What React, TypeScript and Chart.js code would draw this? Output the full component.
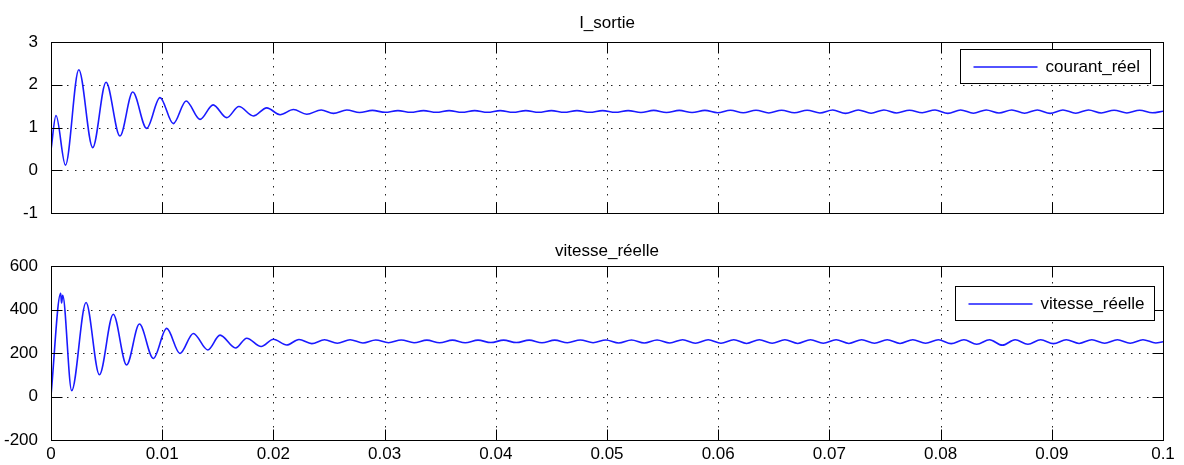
import { useEffect, useRef } from "react";
import { Chart, registerables } from "chart.js";

Chart.register(...registerables);

// ---------- data ----------
const xTickValues = [0, 0.01, 0.02, 0.03, 0.04, 0.05, 0.06, 0.07, 0.08, 0.09, 0.1];
const xTickLabels = ["0", "0.01", "0.02", "0.03", "0.04", "0.05", "0.06", "0.07", "0.08", "0.09", "0.1"];
const currentTicks = [-1, 0, 1, 2, 3];
const speedTicks = [-200, 0, 200, 400, 600];

const currentTitle = "I_sortie";
const currentLegend = "courant_réel";
const speedTitle = "vitesse_réelle";
const speedLegend = "vitesse_réelle";

const currentT = [
  0, 0.00045, 0.0013, 0.0025, 0.00375, 0.00495, 0.0062, 0.00735, 0.0086, 0.0098,
  0.011, 0.01215, 0.0134, 0.01458, 0.0158, 0.0169, 0.0182, 0.0194, 0.0206, 0.0218,
  0.023, 0.0243, 0.0254, 0.0266, 0.02775, 0.0289, 0.03005, 0.0312, 0.03235, 0.0335,
  0.03465, 0.0358, 0.03695, 0.0381, 0.03925, 0.0404, 0.04155, 0.0427, 0.04385, 0.045,
  0.04615, 0.0473, 0.04845, 0.0496, 0.05075, 0.0519, 0.05305, 0.0542, 0.05535, 0.0565,
  0.05765, 0.0588, 0.05995, 0.0611, 0.06225, 0.0634, 0.06455, 0.0657, 0.06685, 0.068,
  0.06915, 0.0703, 0.07145, 0.0726, 0.07375, 0.0749, 0.07605, 0.0772, 0.07835, 0.0795,
  0.08065, 0.0818, 0.08295, 0.0841, 0.08525, 0.0864, 0.08755, 0.0887, 0.08985, 0.091,
  0.09215, 0.0933, 0.09445, 0.0956, 0.09675, 0.0979, 0.09905, 0.1,
];
const currentV = [
  0.48, 1.28, 0.12, 2.35, 0.53, 2.06, 0.8, 1.83, 0.98, 1.7,
  1.09, 1.62, 1.19, 1.53, 1.23, 1.49, 1.27, 1.46, 1.3, 1.42,
  1.31, 1.41, 1.33, 1.41, 1.35, 1.4, 1.355, 1.395, 1.355, 1.395,
  1.355, 1.395, 1.355, 1.395, 1.355, 1.395, 1.355, 1.395, 1.355, 1.395,
  1.355, 1.395, 1.355, 1.395, 1.355, 1.395, 1.35, 1.4, 1.35, 1.4,
  1.35, 1.4, 1.345, 1.405, 1.345, 1.405, 1.34, 1.405, 1.345, 1.405,
  1.34, 1.41, 1.33, 1.41, 1.335, 1.41, 1.34, 1.405, 1.345, 1.41,
  1.33, 1.41, 1.335, 1.41, 1.34, 1.41, 1.335, 1.41, 1.33, 1.41,
  1.335, 1.41, 1.34, 1.405, 1.34, 1.405, 1.345, 1.38,
];

const speedT = [
  0, 0.00087, 0.00095, 0.00105, 0.00186, 0.00315, 0.00435, 0.0056, 0.0068, 0.00795,
  0.0092, 0.0104, 0.0116, 0.0128, 0.0141, 0.0152, 0.0166, 0.0176, 0.0189, 0.02,
  0.0212, 0.0223, 0.02345, 0.0246, 0.02575, 0.0269, 0.02805, 0.0292, 0.03035, 0.0315,
  0.03265, 0.0338, 0.03495, 0.0361, 0.03725, 0.0384, 0.03955, 0.0407, 0.04185, 0.043,
  0.04415, 0.0453, 0.04645, 0.0476, 0.04875, 0.0499, 0.05105, 0.0522, 0.05335, 0.0545,
  0.05565, 0.0568, 0.05795, 0.0591, 0.06025, 0.0614, 0.06255, 0.0637, 0.06485, 0.066,
  0.06715, 0.0683, 0.06945, 0.0706, 0.07175, 0.0729, 0.07405, 0.0752, 0.07635, 0.0775,
  0.07865, 0.0798, 0.08095, 0.0821, 0.08325, 0.0844, 0.08555, 0.0867, 0.08785, 0.089,
  0.09015, 0.0913, 0.09245, 0.0936, 0.09475, 0.0959, 0.09705, 0.0982, 0.09935, 0.1,
];
const speedV = [
  5, 474, 430, 465, 27, 432, 100, 378, 145, 333,
  175, 313, 198, 290, 214, 282, 223, 268, 230, 263,
  237, 262, 243, 261, 245, 261, 246, 260, 247, 260,
  247, 259, 247, 259, 247, 259, 248, 259, 248, 259,
  247, 259, 247, 260, 247, 260, 246, 260, 246, 260,
  246, 261, 245, 261, 245, 261, 244, 261, 245, 261,
  244, 261, 245, 261, 244, 261, 245, 261, 244, 261,
  245, 261, 243, 261, 240, 261, 236, 261, 240, 261,
  243, 261, 244, 261, 245, 261, 245, 261, 246, 252,
];

// ---------- drawing ----------
const FONT = "'Liberation Sans', Arial, Helvetica, sans-serif";
const FONT_SIZE = 17;
const LINE_COLOR = "#1a1aff";

const framePlugin = {
  id: "matlabFrame",
  beforeDatasetsDraw(chart: any) {
    const { ctx, chartArea } = chart;
    const { left, right, top, bottom } = chartArea;
    const xs = chart.scales.x;
    const ys = chart.scales.y;
    ctx.save();
    ctx.strokeStyle = "#222";
    ctx.lineWidth = 1;
    ctx.setLineDash([1.5, 6.5]);
    xs.ticks.forEach((t: any) => {
      if (t.value <= xs.min || t.value >= xs.max) return;
      const px = Math.round(xs.getPixelForValue(t.value)) + 0.5;
      ctx.beginPath();
      ctx.moveTo(px, top);
      ctx.lineTo(px, bottom);
      ctx.stroke();
    });
    ys.ticks.forEach((t: any) => {
      if (t.value <= ys.min || t.value >= ys.max) return;
      const py = Math.round(ys.getPixelForValue(t.value)) + 0.5;
      ctx.beginPath();
      ctx.moveTo(left, py);
      ctx.lineTo(right, py);
      ctx.stroke();
    });
    ctx.restore();
  },
  afterDatasetsDraw(chart: any, _args: any, opts: any) {
    const { ctx, chartArea } = chart;
    const { left, right, top, bottom } = chartArea;
    const xs = chart.scales.x;
    const ys = chart.scales.y;
    const L = 11;
    ctx.save();
    ctx.strokeStyle = "#000";
    ctx.lineWidth = 1;
    ctx.setLineDash([]);
    const l = Math.round(left) + 0.5;
    const r = Math.round(right) + 0.5;
    const t0 = Math.round(top) + 0.5;
    const b0 = Math.round(bottom) + 0.5;
    ctx.strokeRect(l, t0, r - l, b0 - t0);
    ctx.beginPath();
    xs.ticks.forEach((t: any) => {
      const px = Math.round(xs.getPixelForValue(t.value)) + 0.5;
      ctx.moveTo(px, b0);
      ctx.lineTo(px, b0 - L);
      ctx.moveTo(px, t0);
      ctx.lineTo(px, t0 + L);
    });
    ys.ticks.forEach((t: any) => {
      const py = Math.round(ys.getPixelForValue(t.value)) + 0.5;
      ctx.moveTo(l, py);
      ctx.lineTo(l + L, py);
      ctx.moveTo(r, py);
      ctx.lineTo(r - L, py);
    });
    ctx.stroke();

    // title
    ctx.fillStyle = "#000";
    ctx.font = `${FONT_SIZE}px ${FONT}`;
    ctx.textAlign = "center";
    ctx.textBaseline = "alphabetic";
    ctx.fillText(opts.title, (left + right) / 2, top - opts.titleGap);

    // legend box
    ctx.font = `${FONT_SIZE}px ${FONT}`;
    const tw = ctx.measureText(opts.legend).width;
    const boxW = Math.round(13 + 64 + 8 + tw + 10);
    const boxH = 34;
    const bx = Math.round(right - opts.legendRight - boxW) + 0.5;
    const by = Math.round(top + opts.legendTop) + 0.5;
    ctx.fillStyle = "#fff";
    ctx.fillRect(bx, by, boxW, boxH);
    ctx.strokeStyle = "#000";
    ctx.strokeRect(bx, by, boxW, boxH);
    const cy = by + boxH / 2;
    ctx.strokeStyle = LINE_COLOR;
    ctx.lineWidth = 1.5;
    ctx.beginPath();
    ctx.moveTo(bx + 13, Math.round(cy));
    ctx.lineTo(bx + 13 + 64, Math.round(cy));
    ctx.stroke();
    ctx.fillStyle = "#000";
    ctx.textAlign = "left";
    ctx.textBaseline = "middle";
    ctx.fillText(opts.legend, bx + 13 + 64 + 8, cy + 1);
    ctx.restore();
  },
};

function buildConfig(p: {
  t: number[];
  v: number[];
  yTicks: number[];
  showX: boolean;
  padTop: number;
  padBottom: number;
  title: string;
  legend: string;
  titleGap: number;
  legendTop: number;
  legendRight: number;
}) {
  return {
    type: "line" as const,
    data: {
      datasets: [
        {
          label: p.legend,
          data: p.t.map((x, i) => ({ x, y: p.v[i] })),
          borderColor: LINE_COLOR,
          borderWidth: 1.6,
          pointRadius: 0,
          fill: false,
          cubicInterpolationMode: "monotone" as const,
        },
      ],
    },
    options: {
      animation: false as const,
      responsive: true,
      maintainAspectRatio: false,
      events: [],
      layout: { padding: { top: p.padTop, right: 21, bottom: p.padBottom, left: 0 } },
      plugins: {
        legend: { display: false },
        title: { display: false },
        tooltip: { enabled: false },
        matlabFrame: {
          title: p.title,
          legend: p.legend,
          titleGap: p.titleGap,
          legendTop: p.legendTop,
          legendRight: p.legendRight,
        },
      },
      scales: {
        x: {
          type: "linear" as const,
          min: xTickValues[0],
          max: xTickValues[xTickValues.length - 1],
          afterBuildTicks: (s: any) => {
            s.ticks = xTickValues.map((value) => ({ value }));
          },
          afterFit: (s: any) => {
            s.height = p.showX ? 25 : 0;
          },
          grid: { display: false },
          border: { display: false },
          ticks: {
            display: p.showX,
            autoSkip: false,
            maxRotation: 0,
            padding: -4,
            color: "#000",
            font: { family: FONT, size: FONT_SIZE },
            callback: (_v: any, i: number) => xTickLabels[i],
          },
        },
        y: {
          type: "linear" as const,
          min: p.yTicks[0],
          max: p.yTicks[p.yTicks.length - 1],
          afterBuildTicks: (s: any) => {
            s.ticks = p.yTicks.map((value) => ({ value }));
          },
          afterFit: (s: any) => {
            s.width = 51;
          },
          grid: { display: false },
          border: { display: false },
          ticks: {
            padding: 5,
            color: "#000",
            font: { family: FONT, size: FONT_SIZE },
            callback: (_v: any, i: number) => String(p.yTicks[i]),
          },
        },
      },
    },
    plugins: [framePlugin],
  };
}

export default function App() {
  const topRef = useRef<HTMLCanvasElement | null>(null);
  const botRef = useRef<HTMLCanvasElement | null>(null);

  useEffect(() => {
    const c1 = new Chart(
      topRef.current as HTMLCanvasElement,
      buildConfig({
        t: currentT,
        v: currentV,
        yTicks: currentTicks,
        showX: false,
        padTop: 42,
        padBottom: 19,
        title: currentTitle,
        legend: currentLegend,
        titleGap: 14,
        legendTop: 7,
        legendRight: 13,
      }) as any
    );
    const c2 = new Chart(
      botRef.current as HTMLCanvasElement,
      buildConfig({
        t: speedT,
        v: speedV,
        yTicks: speedTicks,
        showX: true,
        padTop: 34,
        padBottom: 0,
        title: speedTitle,
        legend: speedLegend,
        titleGap: 10,
        legendTop: 20,
        legendRight: 9,
      }) as any
    );
    return () => {
      c1.destroy();
      c2.destroy();
    };
  }, []);

  return (
    <div
      style={{
        position: "fixed",
        left: 0,
        top: 0,
        width: 1184,
        height: 465,
        background: "#fff",
      }}
    >
      <div style={{ position: "absolute", left: 0, top: 0, width: 1184, height: 232 }}>
        <canvas ref={topRef} />
      </div>
      <div style={{ position: "absolute", left: 0, top: 232, width: 1184, height: 233 }}>
        <canvas ref={botRef} />
      </div>
    </div>
  );
}
